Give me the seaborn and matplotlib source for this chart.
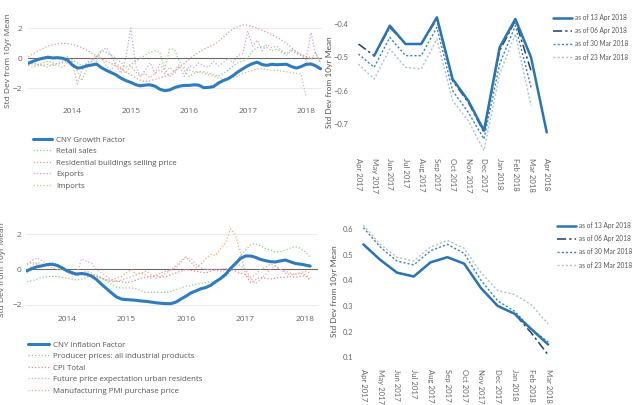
import numpy as np
import pandas as pd
import matplotlib
matplotlib.use("Agg")
import matplotlib.pyplot as plt
import matplotlib.dates as mdates
import seaborn as sns

nan = np.nan

# ---------------- data ----------------
growth_dates = pd.date_range("2013-04-01", periods=61, freq="MS")
growth_factor = [-0.33, -0.2, -0.08, 0.0, 0.07, 0.02, 0.04, 0.0, -0.12, -0.45,
                 -0.65, -0.62, -0.5, -0.45, -0.38, -0.62, -0.8, -0.95, -1.1, -1.32,
                 -1.48, -1.6, -1.75, -1.83, -1.78, -1.76, -1.85, -2.05, -2.15, -2.1,
                 -1.95, -1.85, -1.8, -1.8, -1.76, -1.78, -1.95, -1.93, -1.88, -1.65,
                 -1.48, -1.35, -1.15, -0.9, -0.7, -0.5, -0.35, -0.26, -0.42, -0.47,
                 -0.4, -0.43, -0.41, -0.4, -0.55, -0.65, -0.55, -0.4, -0.38, -0.5, -0.7]
retail_sales = [-0.3, -0.4, -0.5, -0.3, -0.2, -0.3, -0.4, -0.3, -0.2, -0.1,
                -0.3, -0.5, -0.4, -0.2, 0.1, 0.5, 0.4, 0.2, 0.0, -0.3,
                -0.6, -0.4, -0.2, 0.0, 0.2, 0.4, 0.5, 0.4, -0.7, 0.6,
                0.6, -0.2, -0.8, -1.2, -1.0, -0.9, -0.9, -1.0, -1.1, -1.2,
                -1.0, -0.8, -0.5, -0.3, -0.2, 0.0, 0.5, 0.7, 0.8, 0.7,
                0.5, 0.6, 0.4, 0.2, 0.5, 0.3, 0.2, 0.1, -0.1, 0.4, -0.3]
residential_price = [0.1, 0.3, 0.5, 0.65, 0.8, 0.9, 0.95, 1.0, 0.98, 0.92,
                     0.82, 0.7, 0.55, 0.35, 0.15, -0.05, -0.2, -0.35, -0.5, -0.7,
                     -0.9, -1.1, -1.3, -1.45, -1.55, -1.5, -1.4, -1.3, -1.2, -1.1,
                     -0.85, -0.6, -0.35, -0.05, 0.2, 0.4, 0.6, 0.75, 0.9, 1.1,
                     1.4, 1.7, 1.95, 2.1, 2.2, 2.2, 2.1, 2.0, 1.85, 1.7,
                     1.55, 1.4, 1.2, 1.0, 0.7, 0.45, 0.25, 0.1, 0.05, 0.0, 0.0]
exports = [-0.4, -0.3, -0.4, -0.5, -0.4, -0.5, -0.3, -0.2, 0.1, -0.3,
           -1.7, -0.8, -0.3, 0.0, -0.2, 0.5, 0.7, 0.2, -0.5, -1.0,
           0.0, 2.0, -0.5, -1.2, -0.8, -0.3, -1.0, -0.4, -0.8, -1.2,
           -1.0, -0.5, -1.2, -0.5, -0.6, -0.3, -0.5, -0.6, -0.2, -0.5,
           -0.3, 0.0, -0.3, 0.2, 0.3, 1.8, 0.8, 1.2, 0.5, 0.9,
           0.7, 0.8, 0.5, 0.3, 0.6, 0.4, 0.2, -0.1, 1.7, 0.3, -0.3]
imports = [-0.5, -0.6, -0.4, -0.5, -0.6, -0.4, -0.5, -0.6, -0.3, -0.2,
           -0.8, -1.5, -0.7, -0.2, 0.2, 0.0, -0.5, -0.8, -0.3, -0.6,
           -1.0, -0.5, -0.9, -1.2, -1.0, -1.3, -1.0, -0.8, -1.0, -0.6,
           -0.9, -0.4, -0.6, -0.8, -0.9, -0.9, -1.0, -1.1, -1.2, -1.3,
           -1.4, -1.4, -1.3, -1.2, -1.0, -0.9, -0.8, -0.7, -0.7, -0.75,
           -0.8, -0.8, -0.85, -0.9, -0.95, -1.0, -1.05, -2.6, nan, nan, nan]

infl_dates = pd.date_range("2013-05-01", periods=58, freq="MS")
inflation_factor = [-0.08, 0.05, 0.15, 0.2, 0.27, 0.29, 0.23, 0.1, -0.08, -0.19,
                    -0.27, -0.23, -0.27, -0.38, -0.57, -0.84, -1.09, -1.33, -1.56, -1.68,
                    -1.71, -1.73, -1.75, -1.79, -1.81, -1.85, -1.89, -1.92, -1.94, -1.94,
                    -1.85, -1.68, -1.52, -1.33, -1.22, -1.1, -1.03, -0.9, -0.7, -0.51,
                    -0.27, 0.06, 0.34, 0.63, 0.76, 0.76, 0.69, 0.57, 0.5, 0.44,
                    0.42, 0.48, 0.53, 0.44, 0.34, 0.3, 0.25, 0.19]
producer_prices = [-0.7, -0.65, -0.55, -0.45, -0.4, -0.4, -0.4, -0.45, -0.5, -0.55,
                   -0.6, -0.55, -0.45, -0.35, -0.3, -0.45, -0.65, -0.85, -1.0, -1.05,
                   -1.05, -1.05, -1.1, -1.2, -1.3, -1.3, -1.3, -1.3, -1.3, -1.25,
                   -1.15, -1.05, -0.95, -0.9, -0.85, -0.8, -0.75, -0.7, -0.65, -0.6,
                   -0.4, -0.1, 0.4, 0.8, 1.1, 1.4, 1.45, 1.35, 1.2, 1.1,
                   1.0, 1.0, 1.1, 1.2, 1.3, 1.2, 1.0, 0.7]
cpi_total = [0.3, 0.4, 0.3, 0.2, 0.3, 0.35, 0.3, 0.1, 0.0, -0.1,
             -0.3, -0.3, -0.25, -0.3, -0.4, -0.5, -0.6, -0.7, -0.65, -0.7,
             -0.75, -0.7, -0.6, -0.5, -0.45, -0.4, -0.35, -0.45, -0.4, -0.3,
             -0.2, -0.1, 0.0, -0.05, -0.1, -0.15, -0.2, -0.1, 0.0, 0.0,
             0.05, 0.0, -0.1, -0.2, -0.3, -0.75, -0.6, -0.45, -0.5, -0.55,
             -0.5, -0.45, -0.45, -0.4, -0.45, -0.4, -0.35, -0.6]
future_price_exp = [0.3, 0.5, 0.65, 0.5, 0.3, 0.4, 0.2, 0.0, -0.1, -0.3,
                    -0.3, 0.6, 0.45, 0.35, 0.0, -0.2, -0.4, -0.6, -0.7, -0.6,
                    -0.5, -0.4, -0.3, -0.2, -0.35, -0.5, -0.3, -0.2, -0.1, -0.05,
                    0.1, 0.4, 0.7, 0.6, 0.3, 0.1, 0.0, 0.0, -0.05, -0.1,
                    -0.05, 0.1, 0.4, 0.2, 0.0, -0.5, -0.8, -0.6, -0.3, 0.0,
                    0.2, 0.0, -0.1, -0.2, -0.3, -0.2, -0.1, -0.2]
pmi_purchase = [-0.2, 0.2, 0.4, 0.3, 0.2, 0.1, 0.0, 0.0, -0.1, -0.2,
                -0.3, -0.2, -0.1, -0.2, -0.4, -0.5, -0.6, -0.6, -0.5, -0.4,
                -0.2, 0.0, -0.3, -0.2, -0.1, -0.3, -0.5, -0.4, -0.2, 0.0,
                0.2, 0.5, 0.7, 0.4, 0.1, 0.3, 0.6, 0.85, 0.8, 1.2,
                1.5, 2.3, 1.9, 0.9, -0.3, -0.5, -0.3, 0.0, 0.1, 0.3,
                0.2, 0.0, -0.2, -0.3, -0.25, -0.2, -0.3, -0.5]

rev_months_growth = ["Apr 2017", "May 2017", "Jun 2017", "Jul 2017", "Aug 2017", "Sep 2017",
                     "Oct 2017", "Nov 2017", "Dec 2017", "Jan 2018", "Feb 2018", "Mar 2018",
                     "Apr 2018"]
growth_13apr = [nan, -0.495, -0.405, -0.46, -0.46, -0.38, -0.565, -0.63, -0.72, -0.47, -0.385, -0.50, -0.725]
growth_06apr = [-0.46, -0.495, -0.41, -0.46, -0.46, -0.385, -0.57, -0.635, -0.725, -0.48, -0.39, -0.54, nan]
growth_30mar = [-0.49, -0.53, -0.44, -0.495, -0.495, -0.41, -0.60, -0.665, -0.745, -0.52, -0.405, -0.59, nan]
growth_23mar = [-0.52, -0.565, -0.475, -0.53, -0.535, -0.445, -0.63, -0.69, -0.78, -0.55, -0.43, -0.645, nan]

rev_months_infl = ["Apr 2017", "May 2017", "Jun 2017", "Jul 2017", "Aug 2017", "Sep 2017",
                   "Oct 2017", "Nov 2017", "Dec 2017", "Jan 2018", "Feb 2018", "Mar 2018"]
infl_13apr = [0.54, 0.48, 0.43, 0.415, 0.47, 0.49, 0.465, 0.37, 0.30, 0.27, 0.21, 0.15]
infl_06apr = [0.54, 0.48, 0.43, 0.415, 0.47, 0.49, 0.465, 0.37, 0.30, 0.27, 0.195, 0.11]
infl_30mar = [0.605, 0.53, 0.475, 0.46, 0.515, 0.54, 0.505, 0.40, 0.32, 0.28, 0.21, 0.16]
infl_23mar = [0.615, 0.54, 0.49, 0.475, 0.53, 0.555, 0.525, 0.43, 0.36, 0.345, 0.305, 0.23]

# ---------------- style ----------------
sns.set_theme(style="white")
plt.rcParams["font.family"] = ["Open Sans", "DejaVu Sans"]

BLUE = "#2f7bbf"
DOT = (0, (1, 1.6))
tick_col = "#666666"
fs_tick = 6
fs_leg = 5.7
LATO = ["Lato", "DejaVu Sans"]

fig = plt.figure(figsize=(6.4, 4.05), dpi=100)


def frac(l, t, r, b):
    return [l / 640, 1 - b / 405, (r - l) / 640, (b - t) / 405]


def style_left(ax, dates_, ylim, lo_pad, hi_pad):
    ax.set_ylim(*ylim)
    ax.set_xlim(dates_[0] - pd.Timedelta(days=lo_pad), dates_[-1] + pd.Timedelta(days=hi_pad))
    ax.set_yticks([-2, 0, 2])
    ax.set_yticklabels(["\u22122", "0", "2"])
    ax.xaxis.set_major_locator(mdates.YearLocator())
    ax.xaxis.set_major_formatter(mdates.DateFormatter("%Y"))
    for s in ax.spines.values():
        s.set_visible(False)
    ax.grid(False)
    for v in (-2, 2):
        ax.axhline(v, color="#ececec", lw=0.8, zorder=0)
    ax.axhline(0, color="#6a6a6a", lw=0.8, zorder=1)
    ax.tick_params(axis="both", length=0, labelsize=fs_tick, colors=tick_col, pad=4)
    ax.set_xlabel("")
    ax.set_ylabel("Std Dev from 10yr Mean", fontsize=6, color="#555555")


def style_right(ax, labels, xlim, ylim, yticks):
    ax.set_xlim(*xlim)
    ax.set_ylim(*ylim)
    ax.set_xticks(range(len(labels)))
    ax.set_xticklabels(labels, rotation=-90, fontsize=5.6, color=tick_col, family=LATO)
    ax.set_yticks(yticks)
    ax.set_yticklabels([("\u2212" if t < 0 else "") + f"{abs(t):.1f}" for t in yticks],
                       fontsize=5.5, color=tick_col, family=LATO)
    for s in ax.spines.values():
        s.set_visible(False)
    ax.grid(False)
    ax.tick_params(axis="both", length=0, pad=5)
    ax.set_xlabel("")
    ax.set_ylabel("Std Dev from 10yr Mean", fontsize=6, color="#555555", family=LATO)


def add_legend(ax, x, y, fs, hl, spacing, pad=0.5, family=None):
    h, l = ax.get_legend_handles_labels()
    if ax.get_legend() is not None:
        ax.get_legend().remove()
    prop = {"size": fs}
    if family:
        prop["family"] = family
    fig.legend(h, l, loc="upper left", bbox_to_anchor=(x / 640, 1 - y / 405),
               frameon=False, prop=prop, handlelength=hl, handletextpad=pad,
               labelspacing=spacing, borderpad=0, borderaxespad=0,
               labelcolor="#555555")


# ---------------- top-left: growth ----------------
ax1 = fig.add_axes(frac(28, 13, 322, 102))
sns.lineplot(x=growth_dates, y=growth_factor, ax=ax1, color=BLUE, lw=2.2, label="CNY Growth Factor", zorder=5)
sns.lineplot(x=growth_dates, y=retail_sales, ax=ax1, color="#8dcf8a", lw=0.9, linestyle=DOT, label="Retail sales")
sns.lineplot(x=growth_dates, y=residential_price, ax=ax1, color="#e39a9a", lw=0.9, linestyle=DOT,
             label="Residential buildings selling price")
sns.lineplot(x=growth_dates, y=exports, ax=ax1, color="#c3a6d6", lw=0.9, linestyle=DOT, label="Exports")
sns.lineplot(x=growth_dates, y=imports, ax=ax1, color="#d8b98a", lw=0.9, linestyle=DOT, label="Imports")
style_left(ax1, growth_dates, (-2.9, 3.0), 2, 9)
ax1.yaxis.set_label_coords(-0.054, 0.47)
add_legend(ax1, 33, 136, fs_leg, 2.4, 0.5)

# ---------------- bottom-left: inflation ----------------
ax3 = fig.add_axes(frac(26, 220, 318, 310))
sns.lineplot(x=infl_dates, y=inflation_factor, ax=ax3, color=BLUE, lw=2.2, label="CNY Inflation Factor", zorder=5)
sns.lineplot(x=infl_dates, y=producer_prices, ax=ax3, color="#8dcf8a", lw=0.9, linestyle=DOT,
             label="Producer prices: all industrial products")
sns.lineplot(x=infl_dates, y=cpi_total, ax=ax3, color="#e08a8a", lw=0.9, linestyle=DOT, label="CPI Total")
sns.lineplot(x=infl_dates, y=future_price_exp, ax=ax3, color="#dba7c8", lw=0.9, linestyle=DOT,
             label="Future price expectation urban residents")
sns.lineplot(x=infl_dates, y=pmi_purchase, ax=ax3, color="#e3b07a", lw=0.9, linestyle=DOT,
             label="Manufacturing PMI purchase price")
style_left(ax3, infl_dates, (-2.3, 2.8), 6, 48)
ax3.tick_params(axis="y", pad=3)
ax3.yaxis.set_label_coords(-0.068, 0.45)
add_legend(ax3, 28, 341, fs_leg, 2.6, 0.5)

# ---------------- top-right: growth revisions ----------------
ax2 = fig.add_axes(frac(355, 14, 553, 151))
xg = np.arange(len(rev_months_growth))
sns.lineplot(x=xg, y=growth_13apr, ax=ax2, color="#2b74b4", lw=1.8, label="as of 13 Apr 2018", zorder=5)
sns.lineplot(x=xg, y=growth_06apr, ax=ax2, color="#1d3f66", lw=1.1, linestyle=(0, (6, 2, 1.5, 2)),
             label="as of 06 Apr 2018", zorder=4)
sns.lineplot(x=xg, y=growth_30mar, ax=ax2, color="#3f7fb5", lw=1.0, linestyle=(0, (1.5, 1.5)),
             label="as of 30 Mar 2018")
sns.lineplot(x=xg, y=growth_23mar, ax=ax2, color="#aebfd0", lw=1.0, linestyle=(0, (1.5, 1.5)),
             label="as of 23 Mar 2018")
style_right(ax2, rev_months_growth, (-0.22, 12.4), (-0.781, -0.37), [-0.7, -0.6, -0.5, -0.4])
ax2.yaxis.set_label_coords(-0.11, 0.5)
add_legend(ax2, 553, 14, 4.7, 2.9, 0.95, pad=0.45, family=LATO)

# ---------------- bottom-right: inflation revisions ----------------
ax4 = fig.add_axes(frac(360, 221, 552, 362))
xi = np.arange(len(rev_months_infl))
sns.lineplot(x=xi, y=infl_13apr, ax=ax4, color="#2b74b4", lw=1.8, label="as of 13 Apr 2018", zorder=5)
sns.lineplot(x=xi, y=infl_06apr, ax=ax4, color="#1d3f66", lw=1.1, linestyle=(0, (6, 2, 1.5, 2)),
             label="as of 06 Apr 2018", zorder=4)
sns.lineplot(x=xi, y=infl_30mar, ax=ax4, color="#3f7fb5", lw=1.0, linestyle=(0, (1.5, 1.5)),
             label="as of 30 Mar 2018")
sns.lineplot(x=xi, y=infl_23mar, ax=ax4, color="#aebfd0", lw=1.0, linestyle=(0, (1.5, 1.5)),
             label="as of 23 Mar 2018")
style_right(ax4, rev_months_infl, (-0.2, 11.23), (0.082, 0.631), [0.1, 0.2, 0.3, 0.4, 0.5, 0.6])
ax4.yaxis.set_label_coords(-0.115, 0.5)
add_legend(ax4, 557, 222, 4.7, 2.9, 0.95, pad=0.45, family=LATO)

fig.savefig("out.png", dpi=100)
